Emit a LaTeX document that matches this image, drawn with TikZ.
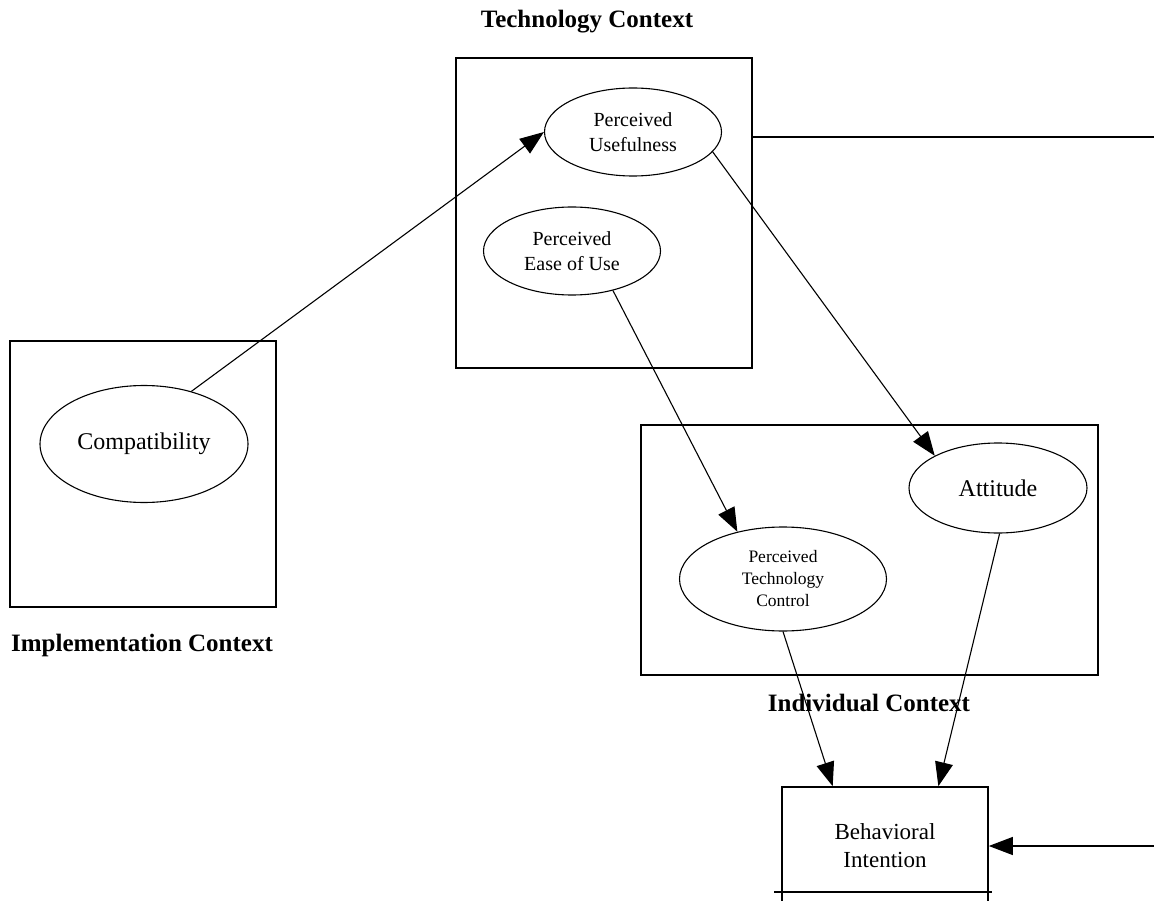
\documentclass[tikz,border=0pt]{standalone}
\usepackage{fontspec}
\setmainfont{Liberation Serif}
\usetikzlibrary{shapes.geometric,arrows.meta,calc}
\begin{document}
\begin{tikzpicture}[x=1pt,y=-1pt,
  ctxbox/.style={draw,rectangle,line width=1.6pt,inner sep=0pt},
  oval/.style={draw,ellipse,line width=1.1pt,inner sep=0pt,align=center},
  bigtxt/.style={font=\fontsize{24}{28}\selectfont},
  midtxt/.style={font=\fontsize{20}{25}\selectfont},
  smalltxt/.style={font=\fontsize{17.5}{22}\selectfont},
  ctxlabel/.style={font=\bfseries\fontsize{25}{30}\selectfont,inner sep=0pt},
  conn/.style={line width=1.1pt,-{Triangle[length=24pt,width=18pt]}},
  plainline/.style={line width=1.1pt}]
\useasboundingbox (0,0) rectangle (1154,901);

% context boxes
\node[ctxbox,minimum width=296pt,minimum height=310pt] (tech) at (604,213) {};
\node[ctxbox,minimum width=266pt,minimum height=266pt] (impl) at (143,474) {};
\node[ctxbox,minimum width=457pt,minimum height=250pt] (indiv) at (869.5,550) {};

% context labels
\node[ctxlabel] (techlbl) at (587,22) {Technology Context};
\node[ctxlabel] (impllbl) at (142,645) {Implementation Context};
\node[ctxlabel] (indivlbl) at (869,703) {Individual Context};

% constructs
\node[oval,midtxt,minimum width=177pt,minimum height=88pt] (pu) at (633,132) {Perceived\\Usefulness};
\node[oval,midtxt,minimum width=177pt,minimum height=88pt] (peou) at (572,251) {Perceived\\Ease of Use};
\node[oval,bigtxt,minimum width=208pt,minimum height=117pt] (compat) at (144,444) {Compatibility};
\node[oval,bigtxt,minimum width=178pt,minimum height=90pt] (att) at (998,488) {Attitude};
\node[oval,smalltxt,minimum width=207pt,minimum height=104pt] (ptc) at (783,579) {Perceived\\Technology\\Control};

% behavioral intention
\node[draw,rectangle,line width=1.6pt,minimum width=206pt,minimum height=118pt,inner sep=0pt,
      align=center,font=\fontsize{23}{28}\selectfont] (bi) at (885,846) {Behavioral\\Intention};
\coordinate (bl) at (774,892);
\coordinate (br) at (992,892);
\draw[line width=1.6pt] (bl) -- (br);

% free ends on the right edge
\coordinate (r1) at (1154,137);
\coordinate (r2) at (1154,846);

% connectors
\draw[conn] (compat.48) -- (pu.west);
\draw[conn] (pu.-14) -- (att.153);
\draw[conn] (peou.-44) -- (ptc.134);
\draw[conn] (ptc.south) -- ($(bi.north west)!0.248!(bi.north east)$);
\draw[conn] (att.-88) -- ($(bi.north west)!0.757!(bi.north east)$);
\draw[plainline] (r1 -| tech.east) -- (r1);
\draw[conn] (r2) -- (bi.east);
\end{tikzpicture}
\end{document}
